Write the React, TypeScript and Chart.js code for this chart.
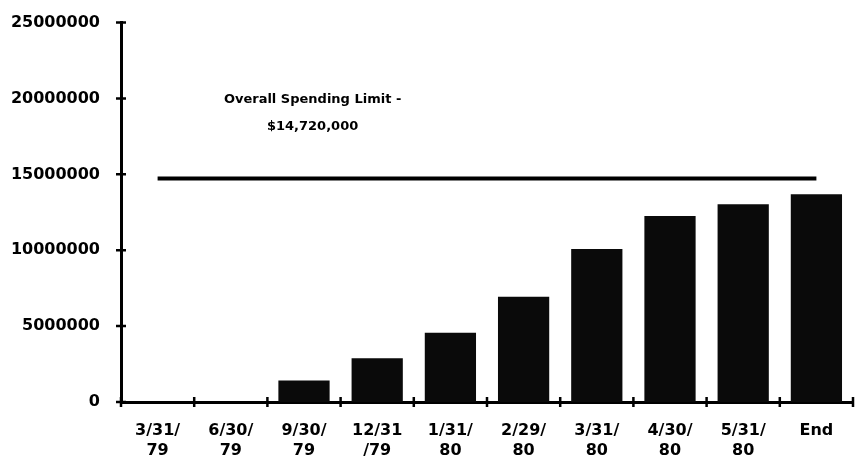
import React, { useEffect, useRef } from "react";
import { Chart, registerables } from "chart.js";

Chart.register(...registerables);

const categories: string[][] = [
  ["3/31/", "79"],
  ["6/30/", "79"],
  ["9/30/", "79"],
  ["12/31", "/79"],
  ["1/31/", "80"],
  ["2/29/", "80"],
  ["3/31/", "80"],
  ["4/30/", "80"],
  ["5/31/", "80"],
  ["End", ""],
];
const spending: number[] = [0, 0, 1410000, 2880000, 4560000, 6930000, 10080000, 12250000, 13030000, 13690000];
const spendingLimit = 14720000;
const limitLine: number[] = categories.map(() => spendingLimit);
const annotationLines: string[] = ["Overall Spending Limit -", "$14,720,000"];
const yTicks: number[] = [0, 5000000, 10000000, 15000000, 20000000, 25000000];

const FONT = "'DejaVu Sans', sans-serif";

const crossTicks = {
  id: "crossTicks",
  afterDraw(chart: any) {
    const ctx = chart.ctx;
    const x = chart.scales.x;
    const y = chart.scales.y;
    const area = chart.chartArea;
    ctx.save();
    ctx.strokeStyle = "#000";
    ctx.lineWidth = 2.5;
    ctx.beginPath();
    y.ticks.forEach((t: any) => {
      const py = y.getPixelForValue(t.value);
      ctx.moveTo(area.left - 5, py);
      ctx.lineTo(area.left + 5, py);
    });
    const n = categories.length;
    for (let i = 0; i <= n; i++) {
      const px = area.left + (i * (area.right - area.left)) / n;
      ctx.moveTo(px, area.bottom - 5);
      ctx.lineTo(px, area.bottom + 5);
    }
    ctx.stroke();
    // annotation
    ctx.fillStyle = "#000";
    ctx.font = `bold 13px ${FONT}`;
    ctx.textAlign = "center";
    ctx.textBaseline = "middle";
    const cx = (x.getPixelForValue(2) + x.getPixelForValue(3)) / 2 - 28;
    ctx.fillText(annotationLines[0], cx, y.getPixelForValue(19900000));
    ctx.fillText(annotationLines[1], cx, y.getPixelForValue(18150000));
    ctx.restore();
  },
};

export default function App() {
  const ref = useRef<HTMLCanvasElement | null>(null);
  useEffect(() => {
    document.body.style.margin = "0";
    const chart = new Chart(ref.current as HTMLCanvasElement, {
      type: "bar",
      data: {
        labels: categories,
        datasets: [
          {
            type: "line",
            data: limitLine,
            borderColor: "#000",
            borderWidth: 4,
            pointRadius: 0,
            fill: false,
            order: 0,
          } as any,
          {
            type: "bar",
            data: spending,
            backgroundColor: "#0a0a0a",
            borderWidth: 0,
            barPercentage: 0.7,
            categoryPercentage: 1,
            order: 1,
          },
        ],
      },
      options: {
        animation: false,
        responsive: false,
        events: [],
        layout: { padding: { top: 9, right: 5, left: 0, bottom: 0 } },
        plugins: { legend: { display: false }, tooltip: { enabled: false } },
        scales: {
          x: {
            offset: true,
            grid: { display: false, offset: true },
            border: { display: true, color: "#000", width: 3 },
            ticks: {
              color: "#000",
              font: { family: FONT, weight: "bold", size: 16, lineHeight: 1.3 },
              padding: 10,
              maxRotation: 0,
              autoSkip: false,
            },
            afterFit(scale: any) {
              scale.height = 62;
            },
          },
          y: {
            min: 0,
            max: 25000000,
            afterBuildTicks(scale: any) {
              scale.ticks = yTicks.map((v) => ({ value: v }));
            },
            grid: { display: false },
            border: { display: true, color: "#000", width: 3 },
            ticks: {
              color: "#000",
              font: { family: FONT, weight: "bold", size: 16 },
              padding: 13,
              callback: (v: any) => String(v),
            },
            afterFit(scale: any) {
              scale.width = 121;
            },
          },
        },
      },
      plugins: [crossTicks],
    });
    return () => chart.destroy();
  }, []);
  return (
    <div style={{ width: 858, height: 464, background: "#fff" }}>
      <canvas ref={ref} width={858} height={464} style={{ display: "block" }} />
    </div>
  );
}
